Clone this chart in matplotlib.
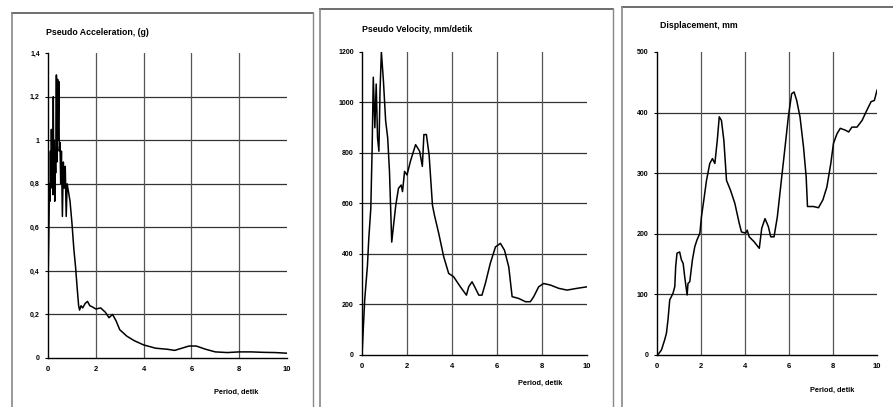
import matplotlib.pyplot as plt
from matplotlib.lines import Line2D

plt.rcParams['font.family'] = ['Liberation Sans Narrow', 'Liberation Sans', 'DejaVu Sans']

# Pseudo acceleration (g)
acc_t = [0.0, 0.03, 0.06, 0.08, 0.10, 0.12, 0.14, 0.16, 0.18, 0.20, 0.22, 0.24, 0.26, 0.28,
         0.30, 0.32, 0.35, 0.37, 0.40, 0.42, 0.45, 0.47, 0.50, 0.53, 0.56, 0.60, 0.64, 0.68,
         0.72, 0.76, 0.80, 0.86, 0.92, 1.00, 1.08, 1.15, 1.22, 1.28, 1.32, 1.38, 1.45, 1.55,
         1.65, 1.75, 1.85, 2.0, 2.2, 2.4, 2.55, 2.7, 2.85, 3.0, 3.3, 3.6, 4.0, 4.5, 5.0, 5.3,
         5.6, 5.9, 6.2, 6.6, 7.0, 7.5, 8.0, 8.5, 9.0, 9.5, 10.0]
acc_v = [0.35, 0.55, 0.80, 0.72, 0.95, 0.78, 1.05, 0.85, 1.03, 0.75, 1.20, 0.80, 1.00, 0.72,
         0.95, 0.85, 1.30, 0.90, 1.28, 1.00, 1.27, 0.95, 0.99, 0.80, 0.95, 0.65, 0.90, 0.78,
         0.88, 0.65, 0.80, 0.76, 0.72, 0.62, 0.50, 0.42, 0.32, 0.24, 0.22, 0.24, 0.23, 0.25,
         0.26, 0.24, 0.235, 0.225, 0.23, 0.21, 0.185, 0.20, 0.17, 0.13, 0.10, 0.08, 0.06,
         0.045, 0.04, 0.035, 0.045, 0.055, 0.055, 0.04, 0.028, 0.025, 0.028, 0.028, 0.026,
         0.025, 0.022]

# Pseudo velocity (mm/detik)
vel_t = [0.0, 0.12, 0.24, 0.30, 0.39, 0.45, 0.50, 0.57, 0.63, 0.69, 0.75, 0.80, 0.86, 0.95,
         1.05, 1.14, 1.22, 1.32, 1.40, 1.50, 1.62, 1.74, 1.80, 1.89, 2.0, 2.15, 2.38, 2.56,
         2.68, 2.75, 2.86, 2.98, 3.13, 3.22, 3.41, 3.63, 3.85, 4.07, 4.37, 4.64, 4.74,
         4.89, 5.04, 5.19, 5.33, 5.48, 5.70, 5.93, 6.15, 6.33, 6.52, 6.67, 6.96, 7.26, 7.48,
         7.63, 7.85, 8.07, 8.37, 8.74, 9.11, 9.56, 10.0]
vel_v = [0, 220, 353, 460, 580, 820, 1100, 900, 1073, 860, 807, 1047, 1200, 1087, 927, 860,
         727, 447, 513, 593, 660, 673, 647, 727, 713, 767, 833, 807, 747, 873, 873, 793, 593,
         553, 481, 389, 323, 310, 270, 237, 270, 290, 264, 237, 237, 283, 363, 428, 442,
         415, 349, 231, 224, 211, 211, 231, 270, 283, 277, 264, 257, 264, 270]

# Displacement (mm)
dis_t = [0.05, 0.20, 0.35, 0.43, 0.50, 0.58, 0.65, 0.73, 0.81, 0.85, 0.91, 1.03, 1.11, 1.19,
         1.26, 1.37, 1.41, 1.49, 1.61, 1.72, 1.82, 1.95, 2.02, 2.13, 2.25, 2.40, 2.52, 2.63,
         2.74, 2.83, 2.93, 3.04, 3.16, 3.34, 3.54, 3.74, 3.84, 4.03, 4.10, 4.19, 4.41, 4.65,
         4.76, 4.91, 5.06, 5.17, 5.32, 5.47, 5.67, 5.82, 5.97, 6.12, 6.23, 6.35, 6.50, 6.66,
         6.78, 6.84, 7.11, 7.34, 7.54, 7.72, 7.90, 8.02, 8.18, 8.33, 8.56, 8.71, 8.86, 9.09,
         9.32, 9.54, 9.73, 9.88, 10.0]
dis_v = [1, 8, 25, 36, 58, 91, 96, 102, 113, 146, 168, 170, 157, 151, 129, 99, 118, 121, 157,
         179, 190, 201, 228, 256, 288, 316, 324, 316, 354, 393, 387, 354, 288, 272, 250, 217,
         203, 201, 206, 195, 187, 176, 209, 225, 212, 195, 195, 228, 294, 343, 393, 431, 434,
         420, 393, 343, 294, 245, 245, 243, 256, 277, 316, 349, 365, 374, 371, 368, 376, 376,
         387, 404, 418, 420, 437]

x_ticks = [0, 2, 4, 6, 8, 10]

fig = plt.figure(figsize=(8.93, 4.07), dpi=100)

panels = [
    ([0.0538, 0.1204, 0.2676, 0.749], acc_t, acc_v, 1.4, [0, 0.2, 0.4, 0.6, 0.8, 1.0, 1.2, 1.4],
     ['0', '0,2', '0,4', '0,6', '0,8', '1', '1,2', '1,4'], 'Pseudo Acceleration, (g)',
     (0.052, 0.92), (0.24, 0.035)),
    ([0.4054, 0.1278, 0.252, 0.7445], vel_t, vel_v, 1200, [0, 200, 400, 600, 800, 1000, 1200],
     ['0', '200', '400', '600', '800', '1000', '1200'], 'Pseudo Velocity, mm/detik',
     (0.405, 0.928), (0.58, 0.058)),
    ([0.7357, 0.1278, 0.2464, 0.7445], dis_t, dis_v, 500, [0, 100, 200, 300, 400, 500],
     ['0', '100', '200', '300', '400', '500'], 'Displacement, mm',
     (0.739, 0.937), (0.907, 0.04)),
]

for rect, xs, ys, ymax, yt, ytl, title, tpos, ppos in panels:
    ax = fig.add_axes(rect)
    for yv in yt[1:-1]:
        ax.axhline(yv, color='#333333', lw=0.9, zorder=1)
    for xv in x_ticks[1:-1]:
        ax.axvline(xv, color='#555555', lw=0.9, zorder=1)
    ax.plot(xs, ys, color='black', lw=1.1, zorder=3)
    ax.set_xlim(0, 10)
    ax.set_ylim(0, ymax)
    ax.set_xticks(x_ticks)
    ax.set_xticklabels([str(v) for v in x_ticks], fontsize=5.5, fontweight='bold')
    ax.set_yticks(yt)
    ax.set_yticklabels(ytl, fontsize=5, fontweight='bold')
    ax.tick_params(axis='x', length=0, pad=6)
    ax.tick_params(axis='y', length=2, pad=4)
    for s in ['top', 'right']:
        ax.spines[s].set_visible(False)
    ax.spines['left'].set_linewidth(1.0)
    ax.spines['bottom'].set_linewidth(1.0)
    fig.text(tpos[0], tpos[1], title, fontsize=6.3, fontweight='bold', ha='left', va='center')
    fig.text(ppos[0], ppos[1], 'Period, detik', fontsize=5.3, fontweight='bold', ha='left', va='center')

# panel frames from the scanned page
frame = '#888888'
for x0, x1, ytop in [(0.013, 0.350, 0.968), (0.358, 0.686, 0.978), (0.697, 1.0, 0.982)]:
    fig.add_artist(Line2D([x0, x1], [ytop, ytop], color='#555555', lw=1.2))
    fig.add_artist(Line2D([x0, x0], [0.0, ytop], color=frame, lw=1.2))
    if x1 < 1.0:
        fig.add_artist(Line2D([x1, x1], [0.0, ytop], color=frame, lw=1.0))

fig.savefig('out.png', dpi=100)
